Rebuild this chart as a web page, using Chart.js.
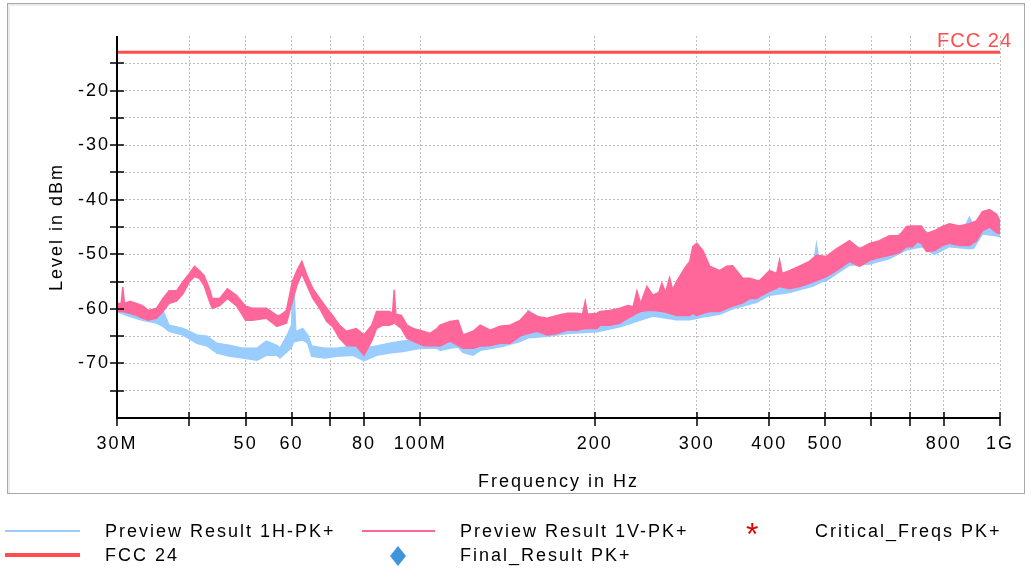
<!DOCTYPE html>
<html>
<head>
<meta charset="utf-8">
<script src="https://cdn.jsdelivr.net/npm/chart.js@4.4.1/dist/chart.umd.min.js"></script>
<style>
  body { margin: 0; background: #fff; font-family: "Liberation Sans", Arial, sans-serif; }
  #panel { position: absolute; left: 7px; top: 3px; width: 1016px; height: 489px;
           border: 1px solid #a8a8a8; box-shadow: inset 2px 2px 0 #ececec; background: #fff; }
  #wrap { position: absolute; left: 0; top: 0; width: 1031px; height: 569px; }
  .lg { position: absolute; font-size: 18px; letter-spacing: 2px; color: #000; line-height: 20px; white-space: nowrap; }
  .sw { position: absolute; }
</style>
</head>
<body>
<div id="panel"></div>
<div id="wrap"><canvas id="chartEmi"></canvas></div>

<div class="sw" style="left:5px;top:530px;width:75px;height:2px;background:#99CCFF"></div>
<div class="lg" style="left:105px;top:521px">Preview Result 1H-PK+</div>
<div class="sw" style="left:362px;top:530px;width:73px;height:2px;background:#FF6699"></div>
<div class="lg" style="left:460px;top:521px">Preview Result 1V-PK+</div>
<div class="lg" style="left:746px;top:524px;color:#e00000;font-size:32px;letter-spacing:0">*</div>
<div class="lg" style="left:815px;top:521px">Critical_Freqs PK+</div>
<div class="sw" style="left:5px;top:553px;width:75px;height:4px;background:#FF4D4D"></div>
<div class="lg" style="left:105px;top:545px">FCC 24</div>
<svg class="sw" style="left:390px;top:546px" width="16" height="20"><polygon points="8,0 16,10 8,20 0,10" fill="#3f95dd"/></svg>
<div class="lg" style="left:460px;top:545px">Final_Result PK+</div>

<script>
// frequencies in MHz, levels in dBm (upper / lower edge of each noisy trace)
const vFreq = [30.0, 30.5, 30.7, 30.9, 31.6, 32.4, 33.2, 34.0, 35.1, 36.0, 36.9, 38.0, 39.0, 40.0, 40.8, 41.6, 42.4, 43.3, 43.8, 45.1, 46.5, 48.2,
  50.0, 51.3, 54.3, 56.6, 57.3, 58.8, 60.2, 61.3, 62.5, 63.8, 65.3, 67.1, 69.0, 70.6, 72.6, 74.6, 77.6, 80.0, 82.5, 84.1,
  86.1, 88.5, 89.6, 90.2, 90.8, 92.8, 94.9, 97.2, 101.1, 104.0, 106.9, 108.2, 112.6, 116.2, 118.6, 123.4, 126.9, 132.1, 137.3, 142.9, 148.7, 153.5,
  159.2, 165.6, 172.3, 179.3, 186.5, 190.5, 192.6, 194.5, 201.9, 204.3, 212.5, 221.1, 228.2, 233.0, 236.5, 240.0, 246.1, 251.9, 258.0, 261.1, 265.0, 269.2, 272.5, 276.8, 285.7, 291.7, 295.3,
  300.0, 307.2, 315.7, 328.5, 337.7, 345.8, 360.0, 370.2, 380.6, 385.2, 400.4, 412.0, 416.6, 421.0, 433.4, 451.0, 469.2, 482.4, 501.9, 522.2, 550.0, 572.4,
  595.6, 619.7, 644.7, 670.8, 689.7, 706.3, 720.4, 731.9, 746.7, 770.7, 795.5, 818.0, 851.1, 885.6, 910.6, 932.5, 958.8, 985.7, 1000];
const vHigh = [-59.0, -59.0, -56.0, -59.0, -58.6, -59.0, -59.4, -60.3, -59.9, -58.1, -56.7, -56.7, -55.0, -53.5, -52.2, -53.0, -53.9, -56.3, -58.1, -58.1, -56.3, -57.5,
  -59.5, -59.9, -59.9, -61.2, -61.2, -60.3, -55.0, -53.0, -51.3, -53.9, -56.3, -58.1, -59.9, -61.2, -63.0, -64.1, -63.6, -64.8, -63.0, -60.5,
  -60.5, -60.5, -60.8, -56.5, -61.0, -61.2, -63.0, -63.6, -64.1, -64.5, -63.6, -63.0, -62.3, -62.1, -64.8, -64.1, -63.0, -63.9, -63.2, -63.0, -62.1, -60.5,
  -61.4, -61.7, -61.2, -60.8, -60.8, -61.0, -58.6, -61.0, -60.8, -60.5, -60.3, -59.9, -59.4, -59.6, -56.7, -59.0, -55.9, -57.5, -57.0, -55.3, -57.0, -54.3, -56.5, -55.0, -52.6, -51.3, -48.6,
  -48.0, -49.3, -52.2, -53.0, -52.2, -52.1, -54.4, -54.4, -54.8, -54.8, -53.0, -53.5, -51.1, -53.5, -53.0, -52.2, -51.3, -50.2, -50.4, -49.0, -47.5, -49.0,
  -48.0, -47.5, -46.6, -46.6, -44.9, -44.8, -44.8, -44.8, -46.2, -45.7, -44.9, -44.4, -44.8, -44.4, -43.9, -42.2, -41.8, -42.6, -43.9];
const vLow = [-60.5, -60.5, -60.5, -60.6, -60.8, -61.2, -61.7, -62.1, -61.7, -60.5, -59.0, -58.6, -57.2, -55.0, -54.1, -54.4, -55.7, -58.6, -59.9, -59.4, -58.1, -59.4,
  -62.1, -62.1, -61.7, -63.2, -63.0, -62.6, -58.6, -55.7, -53.5, -55.7, -58.1, -59.9, -62.3, -63.2, -65.4, -66.7, -66.8, -68.5, -65.9, -63.6,
  -63.0, -63.0, -62.8, -62.5, -62.8, -63.6, -65.4, -65.9, -66.7, -66.8, -66.7, -66.8, -65.9, -66.7, -67.2, -67.2, -66.8, -66.7, -66.3, -66.3, -65.0, -64.5,
  -64.1, -64.8, -64.5, -63.9, -63.9, -63.7, -63.6, -63.6, -63.6, -63.0, -63.0, -62.6, -61.7, -61.2, -60.8, -60.5, -60.3, -60.3, -60.4, -60.5, -60.6, -60.8, -61.0, -61.2, -61.2, -61.2, -60.8,
  -61.2, -60.8, -60.5, -60.5, -59.9, -59.5, -58.9, -58.1, -58.1, -57.7, -56.8, -56.2, -55.9, -56.0, -56.3, -55.9, -55.3, -54.8, -54.1, -53.0, -51.3, -52.2,
  -51.1, -50.6, -50.2, -49.7, -48.6, -48.6, -47.7, -48.0, -49.5, -49.3, -48.4, -48.0, -48.4, -48.4, -47.5, -45.7, -45.0, -46.0, -46.2];

const hFreq = [30.0, 31.6, 33.2, 35.1, 36.0, 36.9, 39.0, 41.2, 42.9, 44.6, 47.0, 49.5, 52.3, 54.3, 56.6, 57.3, 59.0, 60.0, 60.5, 61.0,
  61.3, 62.7, 64.0, 65.0, 68.5, 71.8, 76.6, 80.0, 84.1, 88.5, 93.4, 100.0, 106.9, 108.2, 112.6, 116.2, 118.6, 123.4, 126.9, 137.3,
  148.7, 153.5, 165.6, 179.3, 201.9, 221.1, 251.9, 276.8, 291.7, 307.2, 328.5, 345.8, 360.0, 380.6, 400.4, 433.4, 469.2, 476.0, 482.4, 489.0, 501.9, 550.0,
  595.6, 644.7, 689.7, 731.9, 770.7, 818.0, 870.0, 885.6, 900.0, 932.5, 985.7, 1000];
const hHigh = [-59.9, -60.3, -60.8, -60.5, -60.3, -63.0, -63.6, -64.8, -65.0, -66.3, -66.7, -67.2, -67.2, -65.9, -66.7, -67.2, -64.8, -63.0, -54.5, -64.0,
  -64.1, -63.6, -64.8, -66.8, -67.2, -67.2, -66.8, -67.2, -66.8, -66.3, -65.9, -65.7, -65.4, -65.0, -64.8, -64.5, -66.3, -66.7, -66.0, -65.5,
  -64.5, -60.3, -62.5, -62.0, -61.5, -60.0, -59.0, -58.5, -58.5, -58.5, -58.0, -57.5, -56.5, -55.5, -54.0, -54.0, -52.5, -52.5, -48.2, -52.0, -51.5, -48.5,
  -49.0, -47.5, -45.5, -45.5, -46.5, -45.0, -45.0, -43.2, -44.8, -42.8, -43.0, -44.5];
const hLow = [-60.5, -61.4, -62.1, -62.6, -63.2, -64.1, -64.8, -66.3, -66.8, -68.1, -68.7, -69.0, -69.4, -68.5, -68.5, -69.0, -67.8, -67.0, -66.0, -66.0,
  -65.9, -65.7, -66.3, -68.7, -69.0, -68.7, -68.5, -69.5, -68.5, -68.1, -67.8, -67.2, -67.2, -67.6, -67.2, -67.0, -68.0, -68.5, -67.6, -67.0,
  -66.0, -65.3, -65.0, -64.5, -64.2, -63.3, -61.3, -62.0, -62.0, -61.5, -61.0, -60.0, -59.5, -58.8, -57.5, -57.0, -56.0, -55.8, -55.5, -55.2, -54.8, -52.0,
  -51.8, -50.8, -49.2, -48.6, -50.0, -48.6, -48.9, -49.0, -48.9, -46.3, -46.6, -46.8];

const fccFreq = [30, 1000];
const fccLevel = [-13, -13];
const fccLabel = "FCC 24";

const xTickValues = [30, 40, 50, 60, 70, 80, 100, 200, 300, 400, 500, 600, 700, 800, 1000];
const xTickLabels = { 30: "30M", 50: "50", 60: "60", 80: "80", 100: "100M", 200: "200", 300: "300", 400: "400", 500: "500", 800: "800", 1000: "1G" };
const yTickLabels = [-20, -30, -40, -50, -60, -70];

const pts = (xs, ys) => xs.map((x, i) => ({ x: x, y: ys[i] }));

const axisPlugin = {
  id: "axisCross",
  beforeDraw(chart) {
    chart.ctx.letterSpacing = "2px";
  },
  afterDraw(chart) {
    const { ctx, chartArea: a, scales } = chart;
    const x = scales.x, y = scales.y;
    ctx.save();
    ctx.letterSpacing = "0px";
    ctx.strokeStyle = "#000";
    ctx.lineWidth = 2;
    ctx.beginPath();
    ctx.moveTo(a.left, a.top);
    ctx.lineTo(a.left, a.bottom);
    ctx.lineTo(a.right, a.bottom);
    ctx.stroke();
    ctx.lineWidth = 1.5;
    ctx.beginPath();
    x.ticks.forEach(t => {
      const px = Math.round(x.getPixelForValue(t.value));
      ctx.moveTo(px, a.bottom - 6);
      ctx.lineTo(px, a.bottom + 8);
    });
    y.ticks.forEach(t => {
      if (t.value <= -80 || t.value >= -10) return;
      const py = Math.round(y.getPixelForValue(t.value));
      ctx.moveTo(a.left - 7, py);
      ctx.lineTo(a.left + 7, py);
    });
    ctx.stroke();
    ctx.font = '20px "Liberation Sans", Arial, sans-serif';
    ctx.letterSpacing = "1px";
    ctx.fillStyle = "#FF4D4D";
    ctx.textAlign = "right";
    ctx.textBaseline = "alphabetic";
    ctx.fillText(fccLabel, 1012, 47);
    ctx.restore();
  }
};

new Chart(document.getElementById("chartEmi"), {
  type: "line",
  data: {
    datasets: [
      { label: fccLabel, data: pts(fccFreq, fccLevel), borderColor: "#FF4D4D", borderWidth: 3, pointRadius: 0, fill: false },
      { label: "Preview Result 1V-PK+ low", data: pts(vFreq, vLow), borderColor: "#FF6699", borderWidth: 1.5, pointRadius: 0, fill: false },
      { label: "Preview Result 1V-PK+", data: pts(vFreq, vHigh), borderColor: "#FF6699", borderWidth: 1.5, pointRadius: 0,
        fill: "-1", backgroundColor: "#FF6699" },
      { label: "Preview Result 1H-PK+ low", data: pts(hFreq, hLow), borderColor: "#99CCFF", borderWidth: 1.5, pointRadius: 0, fill: false },
      { label: "Preview Result 1H-PK+", data: pts(hFreq, hHigh), borderColor: "#99CCFF", borderWidth: 1.5, pointRadius: 0,
        fill: "-1", backgroundColor: "#99CCFF" }
    ]
  },
  options: {
    responsive: true,
    maintainAspectRatio: false,
    animation: false,
    layout: { padding: { top: 36, right: 31, bottom: 71, left: 0 } },
    plugins: { legend: { display: false }, tooltip: { enabled: false } },
    scales: {
      x: {
        type: "logarithmic",
        min: 30, max: 1000,
        afterFit: s => { s.height = 80; },
        afterBuildTicks: s => { s.ticks = xTickValues.map(v => ({ value: v })); },
        ticks: {
          autoSkip: false, maxRotation: 0, padding: 15, color: "#000",
          font: { family: '"Liberation Sans", Arial, sans-serif', size: 18 },
          callback: v => xTickLabels[v] || ""
        },
        grid: { color: "#bdbdbd", lineWidth: 1, drawTicks: false },
        border: { display: false, dash: [2, 2] },
        title: { display: true, text: "Frequency in Hz", color: "#000",
          font: { family: '"Liberation Sans", Arial, sans-serif', size: 18 }, padding: { top: 0, bottom: 5 } }
      },
      y: {
        min: -80, max: -10,
        afterFit: s => { s.width = 117; },
        ticks: {
          stepSize: 5, padding: 7, color: "#000",
          font: { family: '"Liberation Sans", Arial, sans-serif', size: 18 },
          callback: v => yTickLabels.includes(v) ? String(v) : ""
        },
        grid: { color: c => (c.tick && c.tick.value === -10) ? "rgba(0,0,0,0)" : "#bdbdbd", lineWidth: 1, drawTicks: false },
        border: { display: false, dash: [2, 2] },
        title: { display: true, text: "Level in dBm", color: "#000",
          font: { family: '"Liberation Sans", Arial, sans-serif', size: 18 }, padding: { top: 46, bottom: 0 } }
      }
    }
  },
  plugins: [axisPlugin]
});
</script>
</body>
</html>
